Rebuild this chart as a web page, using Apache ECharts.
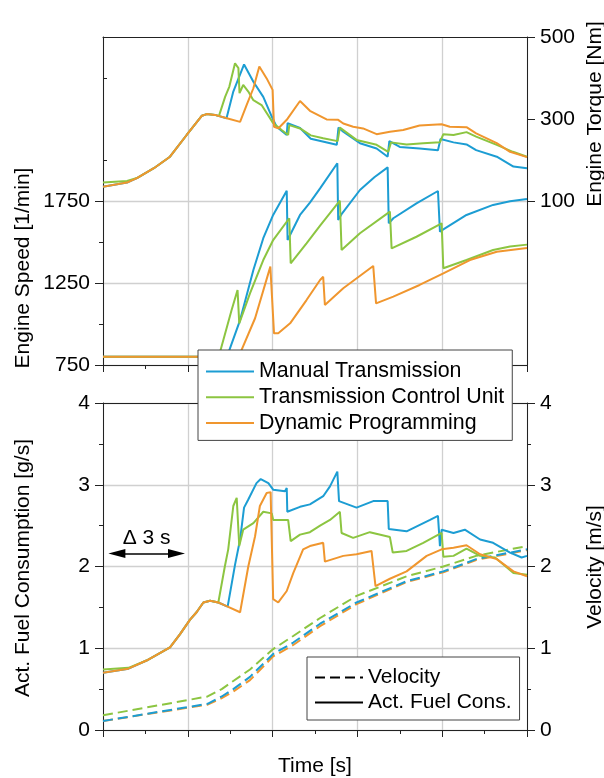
<!DOCTYPE html>
<html><head><meta charset="utf-8">
<script src="https://cdn.jsdelivr.net/npm/echarts@6/dist/echarts.min.js"></script>
<style>html,body{margin:0;padding:0;background:#fff}#c{width:604px;height:778px}</style>
</head><body><div id="c"></div>
<script>
const FONT = '"Liberation Sans", Arial, sans-serif';
const FS = 21;
const strategies = ['Manual Transmission', 'Transmission Control Unit', 'Dynamic Programming'];
const colors = ['#1c9dd3', '#8cc541', '#f0962e'];
const styleNames = ['Velocity', 'Act. Fuel Cons.'];

const speedTicks = [750, 1250, 1750];
const speedMinorTicks = [1000, 1500];
const torqueTicks = [100, 300, 500];
const torqueMinorTicks = [200, 400];

// Engine speed [1/min]
const speedMT = [[0,800],[4.3,800],[4.47,841],[4.85,1024],[5.32,1329],[5.67,1523],[6.02,1665],[6.5,1813],[6.53,1512],[6.97,1665],[7.32,1740],[7.68,1827],[8.29,1980],[8.32,1634],[8.46,1675],[9.09,1817],[9.6,1895],[10.07,1955],[10.11,1614],[10.27,1645],[11.09,1736],[11.85,1811],[11.92,1563],[12.04,1577],[12.86,1665],[13.8,1726],[14.4,1748],[15,1762]];
const speedTCU = [[0,800],[4.0,800],[4.16,841],[4.55,1085],[4.76,1207],[4.82,1004],[5.2,1187],[5.67,1390],[6.02,1512],[6.59,1645],[6.64,1370],[7.2,1492],[7.68,1600],[8.38,1752],[8.44,1451],[9.09,1553],[10.15,1685],[10.21,1461],[11.09,1532],[11.98,1614],[12.04,1340],[12.86,1390],[13.8,1451],[14.4,1472],[15,1484]];
const speedDP = [[0,800],[4.7,800],[4.9,841],[5.38,1035],[5.92,1350],[6.05,943],[6.2,943],[6.62,1004],[7.2,1146],[7.68,1268],[7.79,1288],[7.85,1116],[8.5,1218],[9.56,1354],[9.66,1126],[10.27,1167],[11.2,1238],[12.04,1309],[12.98,1390],[13.93,1441],[15,1463]];

// Engine torque [Nm]
const torqueMT = [[0,135],[0.85,145],[1.2,156],[1.8,180],[2.37,208],[2.96,261],[3.5,308],[3.67,312],[3.96,310],[4.37,302],[4.61,367],[4.99,433],[5.32,391],[5.67,354],[5.97,306],[6.14,281],[6.5,261],[6.53,290],[6.97,278],[7.35,252],[8.27,237],[8.33,279],[8.5,269],[9.09,241],[9.68,228],[10.07,208],[10.13,246],[10.5,232],[11.2,228],[11.85,224],[11.94,251],[12.4,243],[12.86,238],[13.2,224],[13.93,208],[14.52,184],[15,180]];
const torqueTCU = [[0,145],[0.85,149],[1.2,156],[1.8,180],[2.37,208],[2.96,261],[3.5,308],[3.67,312],[3.96,310],[4.1,307],[4.32,354],[4.47,379],[4.67,436],[4.79,424],[4.83,363],[4.96,383],[5.14,367],[5.32,346],[5.61,334],[6.02,290],[6.32,273],[6.55,261],[6.59,285],[6.97,277],[7.35,260],[7.79,253],[8.3,246],[8.38,279],[8.97,249],[9.68,237],[10.09,220],[10.19,243],[10.74,238],[11.33,241],[11.92,243],[12.04,263],[12.4,261],[12.86,268],[13.2,257],[13.93,237],[14.5,220],[15,208]];
const torqueDP = [[0,135],[0.85,145],[1.2,156],[1.8,180],[2.37,208],[2.96,261],[3.5,308],[3.67,312],[3.96,310],[4.38,302],[4.85,293],[5.08,334],[5.32,375],[5.53,428],[5.79,399],[6.0,371],[6.05,281],[6.2,277],[6.5,298],[6.97,344],[7.32,320],[7.91,299],[8.32,298],[8.5,289],[8.85,281],[9.2,277],[9.68,263],[10.15,269],[10.62,273],[11.2,284],[11.98,287],[12.27,281],[12.86,280],[13.2,265],[13.93,241],[14.4,220],[15,207]];

// Actual fuel consumption [g/s]
const fuelMT = [[0,0.70],[0.9,0.75],[1.54,0.85],[2.37,1.01],[2.72,1.17],[3.08,1.35],[3.31,1.44],[3.55,1.56],[3.79,1.58],[4.08,1.56],[4.41,1.51],[4.67,2.02],[4.85,2.33],[4.99,2.72],[5.14,2.82],[5.43,3.02],[5.58,3.07],[5.85,3.02],[6.02,2.94],[6.44,2.92],[6.5,2.96],[6.52,2.67],[6.97,2.73],[7.32,2.76],[7.79,2.86],[8.03,2.98],[8.29,3.16],[8.35,2.80],[8.97,2.72],[9.56,2.80],[10.07,2.80],[10.11,2.46],[10.74,2.43],[11.57,2.57],[11.85,2.62],[11.92,2.25],[11.98,2.45],[12.4,2.41],[12.8,2.45],[13.34,2.33],[13.8,2.29],[14.4,2.17],[14.81,2.11],[15,2.13]];
const fuelTCU = [[0,0.74],[0.9,0.76],[1.54,0.85],[2.37,1.01],[2.72,1.17],[3.08,1.35],[3.31,1.44],[3.55,1.56],[3.79,1.58],[4.08,1.56],[4.31,2.0],[4.43,2.21],[4.61,2.74],[4.73,2.84],[4.82,2.25],[4.96,2.45],[5.32,2.53],[5.67,2.67],[5.97,2.65],[6.02,2.57],[6.55,2.57],[6.59,2.59],[6.64,2.31],[6.97,2.39],[7.32,2.42],[7.68,2.5],[8.03,2.57],[8.38,2.67],[8.44,2.41],[8.85,2.35],[9.44,2.42],[10.15,2.36],[10.25,2.17],[10.74,2.19],[11.33,2.29],[11.98,2.41],[12.04,2.12],[12.4,2.13],[12.86,2.22],[13.34,2.13],[13.87,2.11],[14.52,1.92],[15,1.90]];
const fuelDP = [[0,0.70],[0.9,0.75],[1.54,0.85],[2.37,1.01],[2.72,1.17],[3.08,1.35],[3.31,1.44],[3.55,1.56],[3.79,1.58],[4.08,1.56],[4.41,1.51],[4.85,1.44],[5.14,2.0],[5.38,2.37],[5.55,2.74],[5.79,2.9],[5.93,2.91],[6.02,1.6],[6.2,1.56],[6.5,1.70],[6.73,1.92],[7.08,2.21],[7.32,2.25],[7.79,2.29],[7.85,2.06],[8.5,2.13],[8.97,2.15],[9.5,2.19],[9.56,2.17],[9.64,1.76],[10.15,1.85],[10.74,1.94],[11.45,2.13],[11.98,2.21],[12.4,2.23],[12.86,2.26],[13.34,2.15],[13.93,2.09],[14.52,1.94],[15,1.88]];

// Velocity [m/s]
const velMT = [[0,0.11],[3.7,0.32],[4.2,0.41],[4.61,0.50],[5.2,0.65],[6.02,0.93],[6.73,1.07],[7.68,1.30],[8.97,1.56],[10.74,1.82],[12.04,1.94],[13.2,2.09],[15,2.21]];
const velTCU = [[0,0.18],[3.7,0.41],[4.2,0.50],[4.61,0.60],[5.2,0.74],[6.02,0.99],[6.73,1.15],[7.68,1.37],[8.97,1.64],[10.74,1.88],[12.04,2.0],[13.2,2.13],[15,2.25]];
const velDP = [[0,0.11],[3.7,0.31],[4.2,0.39],[4.61,0.47],[5.2,0.61],[6.02,0.90],[6.73,1.04],[7.68,1.27],[8.97,1.54],[10.74,1.81],[12.04,1.93],[13.2,2.08],[15,2.20]];

// "Δ 3 s" annotation arrow (time [s], fuel [g/s])
const deltaArrow = [[0.49, 2.16], [2.6, 2.16]];

const AX = '#222';
const GRID = '#d0d0d0';
const labelStyle = { color: '#000', fontSize: FS, fontFamily: FONT };
const plain = v => String(v);

function xAxisBottom(gi, withName) {
  return {
    type: 'value', gridIndex: gi, min: 0, max: 15, interval: 3, position: 'bottom',
    axisLine: { show: true, onZero: false, lineStyle: { color: AX, width: 1 } },
    axisTick: { show: true, length: 7, lineStyle: { color: AX } },
    minorTick: { show: true, splitNumber: 2, length: 4, lineStyle: { color: AX } },
    axisLabel: { show: false },
    splitLine: { show: true, lineStyle: { color: GRID, width: 1.3 } },
    name: withName ? 'Time [s]' : '', nameLocation: 'middle', nameGap: 26,
    nameTextStyle: labelStyle
  };
}
function xAxisTop(gi) {
  return {
    type: 'value', gridIndex: gi, min: 0, max: 15, position: 'top',
    axisLine: { show: true, onZero: false, lineStyle: { color: AX, width: 1 } },
    axisTick: { show: false }, axisLabel: { show: false }, splitLine: { show: false }
  };
}
function yAx(gi, pos, min, max, interval, opts) {
  return Object.assign({
    type: 'value', gridIndex: gi, position: pos, min: min, max: max, interval: interval,
    axisLine: { show: true, onZero: false, lineStyle: { color: AX, width: 1 } },
    axisTick: { show: true, length: 8, lineStyle: { color: AX } },
    axisLabel: Object.assign({ margin: 13, formatter: plain }, labelStyle),
    splitLine: { show: false }
  }, opts || {});
}

const lineBase = (name, data, color, xi, yi, dashed, z) => ({
  type: 'line', name: name, data: data, xAxisIndex: xi, yAxisIndex: yi,
  symbol: 'none', showSymbol: false, smooth: false, z: z || 2,
  lineStyle: { color: color, width: 2, type: dashed ? [10, 5] : 'solid' },
  itemStyle: { color: color }, emphasis: { disabled: true }
});

const series = [
  lineBase(strategies[0], speedMT, colors[0], 0, 0),
  lineBase(strategies[1], speedTCU, colors[1], 0, 0),
  lineBase(strategies[2], speedDP, colors[2], 0, 0),
  lineBase(strategies[0], torqueMT, colors[0], 0, 1),
  lineBase(strategies[1], torqueTCU, colors[1], 0, 1),
  lineBase(strategies[2], torqueDP, colors[2], 0, 1),
  lineBase(strategies[2], velDP, colors[2], 2, 5, true),
  lineBase(strategies[0], velMT, colors[0], 2, 5, true),
  lineBase(strategies[1], velTCU, colors[1], 2, 5, true),
  lineBase(strategies[0], fuelMT, colors[0], 2, 4),
  lineBase(strategies[1], fuelTCU, colors[1], 2, 4),
  lineBase(strategies[2], fuelDP, colors[2], 2, 4),
  lineBase(styleNames[0], [], '#000', 2, 5, true),
  Object.assign(lineBase(styleNames[1], [], '#000', 2, 4, false), {
    markLine: {
      silent: true, animation: false,
      symbol: ['triangle', 'triangle'], symbolSize: [9, 17],
      lineStyle: { color: '#000', width: 1.5, type: 'solid' },
      label: { show: true, position: 'middle', formatter: 'Δ 3 s', color: '#000', fontSize: FS, fontFamily: FONT, distance: 5 },
      data: [[{ coord: deltaArrow[0] }, { coord: deltaArrow[1] }]]
    }
  })
];

const legendCommon = {
  orient: 'vertical', itemWidth: 48, itemHeight: 14, selectedMode: false,
  backgroundColor: '#fff', borderColor: '#444', borderWidth: 1, borderRadius: 0,
  textStyle: { color: '#000', fontSize: FS, fontFamily: FONT },
  itemStyle: { opacity: 0, borderWidth: 0 },
  lineStyle: { width: 2 },
  z: 10
};

const option = {
  animation: false,
  backgroundColor: '#fff',
  textStyle: { fontFamily: FONT },
  grid: [
    { left: 103, right: 77, top: 37, height: 328 },
    { left: 103, right: 77, top: 403, height: 328 }
  ],
  xAxis: [xAxisBottom(0, false), xAxisTop(0), xAxisBottom(1, true), xAxisTop(1)],
  yAxis: [
    yAx(0, 'left', 750, 2750, 500, {
      axisTick: { show: true, length: 8, customValues: speedTicks, lineStyle: { color: AX } },
      axisLabel: Object.assign({ margin: 13, customValues: speedTicks, formatter: plain }, labelStyle),
      splitLine: { show: true, lineStyle: { color: GRID, width: 1.3 } }
    }),
    yAx(0, 'right', -300, 500, 200, {
      axisTick: { show: true, length: 8, customValues: torqueTicks, lineStyle: { color: AX } },
      axisLabel: Object.assign({ margin: 13, customValues: torqueTicks, formatter: plain }, labelStyle)
    }),
    yAx(0, 'left', 750, 2750, 500, {
      axisLine: { show: false },
      axisTick: { show: true, length: 4, customValues: speedMinorTicks, lineStyle: { color: AX } },
      axisLabel: { show: false }
    }),
    yAx(0, 'right', -300, 500, 200, {
      axisLine: { show: false },
      axisTick: { show: true, length: 4, customValues: torqueMinorTicks, lineStyle: { color: AX } },
      axisLabel: { show: false }
    }),
    yAx(1, 'left', 0, 4, 1, {
      minorTick: { show: true, splitNumber: 2, length: 4, lineStyle: { color: AX } },
      splitLine: { show: true, lineStyle: { color: GRID, width: 1.3 } }
    }),
    yAx(1, 'right', 0, 4, 1, {
      minorTick: { show: true, splitNumber: 2, length: 4, lineStyle: { color: AX } }
    })
  ],
  legend: [
    Object.assign({}, legendCommon, { data: strategies, left: 198, top: 350, itemGap: 4.7, padding: [11, 8, 7, 7],
      textStyle: { color: '#000', fontSize: 21.4, fontFamily: FONT } }),
    Object.assign({}, legendCommon, { data: styleNames, left: 307, top: 657, itemGap: 4, padding: [10, 8, 7, 7] })
  ],
  graphic: [
    { type: 'text', x: 23, y: 268, rotation: Math.PI / 2, silent: true,
      style: { text: 'Engine Speed [1/min]', fill: '#000', fontSize: FS, fontFamily: FONT, align: 'center', verticalAlign: 'middle' } },
    { type: 'text', x: 595, y: 114, rotation: Math.PI / 2, silent: true,
      style: { text: 'Engine Torque [Nm]', fill: '#000', fontSize: FS, fontFamily: FONT, align: 'center', verticalAlign: 'middle' } },
    { type: 'text', x: 23, y: 568, rotation: Math.PI / 2, silent: true,
      style: { text: 'Act. Fuel Consumption [g/s]', fill: '#000', fontSize: FS, fontFamily: FONT, align: 'center', verticalAlign: 'middle' } },
    { type: 'text', x: 595, y: 567, rotation: Math.PI / 2, silent: true,
      style: { text: 'Velocity [m/s]', fill: '#000', fontSize: FS, fontFamily: FONT, align: 'center', verticalAlign: 'middle' } }
  ],
  series: series
};

const chart = echarts.init(document.getElementById('c'), null, { renderer: 'canvas' });
chart.setOption(option);
</script>
</body></html>
